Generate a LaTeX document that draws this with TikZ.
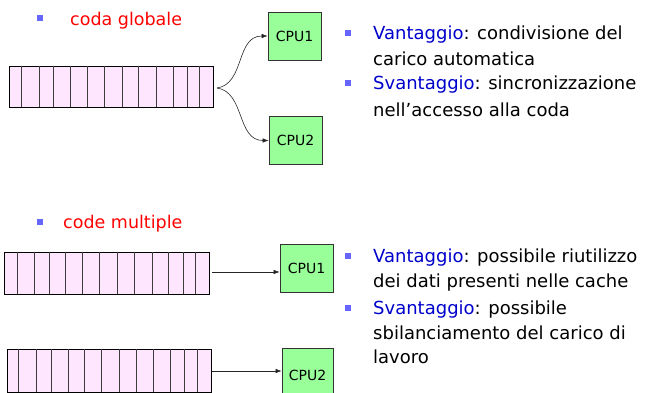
\documentclass[tikz,border=0pt]{standalone}
\usepackage{fontspec}
\setmainfont{DejaVu Sans}
\usetikzlibrary{arrows.meta}
\definecolor{qpink}{RGB}{255,230,255}
\definecolor{cpugreen}{RGB}{153,255,153}
\definecolor{bulletblue}{RGB}{102,102,255}
\definecolor{vblue}{RGB}{0,0,204}
\definecolor{divgray}{RGB}{60,60,60}
\tikzset{
  cpufont/.style={font=\fontsize{14}{14}\selectfont},
  cpubox/.style={draw=black!80, fill=cpugreen, line width=0.8pt, minimum width=53pt, minimum height=48pt, inner sep=0pt, cpufont},
  qbox/.style={draw=black, fill=qpink, line width=0.8pt, inner sep=0pt},
  divline/.style={draw=divgray, line width=1pt},
  bul/.style={fill=bulletblue, minimum size=6pt, inner sep=0pt},
  bodytxt/.style={anchor=base west, inner sep=0pt, font=\fontsize{18}{18}\selectfont},
  headtxt/.style={anchor=base west, inner sep=0pt, text=red, font=\fontsize{17.5}{17.5}\selectfont},
  arr/.style={-{Latex[length=6pt,width=4.5pt]}, line width=0.6pt, black!85},
}
\begin{document}
\begin{tikzpicture}[x=1pt,y=-1pt]
\useasboundingbox (0,0) rectangle (653,393);
\clip (0,0) rectangle (653,393);
% ---------- top part
\node[bul] (b1) at (40,18) {};
\node[headtxt] (h1) at (70,26) {coda globale};
\node[qbox, minimum width=204pt, minimum height=41pt] (q1) at (111,87) {};
\foreach \x in {21,39,53,70,87,104,122,138,156,173,187,199}
  \draw[divline] (\x,66) -- (\x,107);
\node[cpubox] (c1) at (294.5,36) {CPU1};
\node[cpubox] (c2) at (295.5,140.5) {CPU2};
\coordinate (qs) at (217,88);
\draw[arr] (qs) .. controls +(28,-4) and +(-32,0) .. (c1.west);
\draw[arr] (qs) .. controls +(28,4) and +(-32,0) .. (c2.west);
% right text top
\node[bul] (b2) at (348,33) {};
\node[bodytxt] (t1) at (373,40) {\textcolor{vblue}{Vantaggio}: condivisione del};
\node[bodytxt] (t2) at (373,66) {carico automatica};
\node[bul] (b3) at (348,83) {};
\node[bodytxt] (t3) at (373,90) {\textcolor{vblue}{Svantaggio}: sincronizzazione};
\node[bodytxt] (t4) at (373,117) {nell’accesso alla coda};
% ---------- bottom part
\node[bul] (b4) at (40,222) {};
\node[headtxt] (h2) at (63,228) {code multiple};
\node[qbox, minimum width=205pt, minimum height=42pt] (qa) at (106.5,273) {};
\foreach \x in {17,34,49,65,82,99,117,134,152,168,183,195}
  \draw[divline] (\x,252) -- (\x,294);
\node[qbox, minimum width=204pt, minimum height=43pt] (qb) at (109,370.5) {};
\foreach \x in {18,36,51,68,84,101,119,136,153,170,184,197}
  \draw[divline] (\x,349) -- (\x,392);
\node[cpubox] (c3) at (306.5,268) {CPU1};
\node[cpubox, minimum width=51pt, minimum height=52pt] (c4) at (307.5,374) {};
\node[cpufont] (c4t) at (307.5,375) {CPU2};
\coordinate (qa1) at (212,272);
\coordinate (qb1) at (212,371);
\draw[arr] (qa1) -- (c3.west |- qa1);
\draw[arr] (qb1) -- (c4.west |- qb1);
% right text bottom
\node[bul] (b5) at (348,256) {};
\node[bodytxt] (u1) at (373,262) {\textcolor{vblue}{Vantaggio}: possibile riutilizzo};
\node[bodytxt] (u2) at (373,287) {dei dati presenti nelle cache};
\node[bul] (b6) at (348,308) {};
\node[bodytxt] (u3) at (373,314) {\textcolor{vblue}{Svantaggio}: possibile};
\node[bodytxt] (u4) at (373,339) {sbilanciamento del carico di};
\node[bodytxt] (u5) at (373,363) {lavoro};
\end{tikzpicture}
\end{document}
